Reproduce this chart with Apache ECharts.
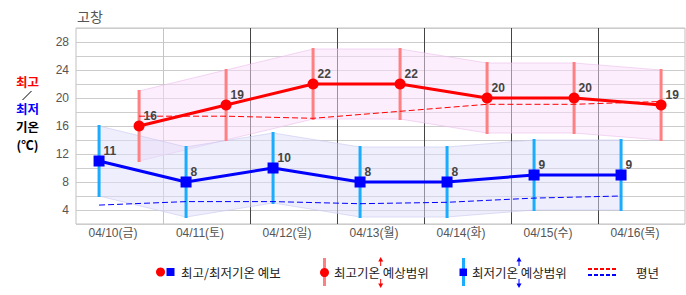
<!DOCTYPE html>
<html><head><meta charset="utf-8">
<script src="https://cdn.jsdelivr.net/npm/echarts@6/dist/echarts.min.js"></script>
<style>html,body{margin:0;padding:0;background:#fff}#c{width:686px;height:295px}</style>
</head><body><div id="c"></div>
<script>
// ---- data ----
const title = '고창';
const categories = ['04/10(금)','04/11(토)','04/12(일)','04/13(월)','04/14(화)','04/15(수)','04/16(목)'];
const maxTemp = [16, 19, 22, 22, 20, 20, 19];
const minTemp = [11, 8, 10, 8, 8, 9, 9];
const maxRangeHigh = [21, 24, 27, 27, 25, 25, 24];
const maxRangeLow  = [11, 14, 17, 17, 15, 15, 14];
const minRangeHigh = [16, 13, 15, 13, 13, 14, 14];
const minRangeLow  = [6, 3, 5, 3, 3, 4, 4];
const normalMax = [17.4, 17.4, 17.1, 18.1, 19.1, 19.1, 19.5];
const normalMin = [4.7, 5.2, 5.2, 4.9, 5.1, 5.7, 6.0];
const yTicks = [4, 8, 12, 16, 20, 24, 28];
const legendLabels = ['최고/최저기온 예보', '최고기온 예상범위', '최저기온 예상범위', '평년'];

// ---- layout / style ----
const MIN_POS = 0.265, MAX_POS = 0.725;
const dayLineColors = ['#c4c4c4', '#444', '#444', '#444', '#444', '#444'];
const FONT = "'Liberation Sans','Noto Sans CJK KR',sans-serif";
const KFONT = "'Noto Sans CJK KR','Liberation Sans',sans-serif";

const chart = echarts.init(document.getElementById('c'), null, {renderer: 'svg'});

function pts(arr, pos) { return arr.map((v, i) => [i + pos, v]); }

function bandSeries(high, low, pos, fill, edge) {
  return {
    type: 'custom', xAxisIndex: 1, yAxisIndex: 0, z: 1, silent: true,
    data: high.map((h, i) => [i + pos, low[i], h]),
    encode: {x: 0, y: [1, 2]},
    renderItem: function (params, api) {
      const i = params.dataIndex;
      if (i >= high.length - 1) return null;
      const a1 = api.coord([i + pos, high[i]]);
      const b1 = api.coord([i + 1 + pos, high[i + 1]]);
      const b2 = api.coord([i + 1 + pos, low[i + 1]]);
      const a2 = api.coord([i + pos, low[i]]);
      return {
        type: 'group',
        children: [
          {type: 'polygon', shape: {points: [a1, b1, b2, a2]}, style: {fill: fill}},
          {type: 'line', shape: {x1: a1[0], y1: a1[1], x2: b1[0], y2: b1[1]}, style: {stroke: edge, lineWidth: 1}},
          {type: 'line', shape: {x1: a2[0], y1: a2[1], x2: b2[0], y2: b2[1]}, style: {stroke: edge, lineWidth: 1}}
        ]
      };
    }
  };
}

function barSeries(high, low, pos, color) {
  return {
    type: 'custom', xAxisIndex: 1, yAxisIndex: 0, z: 2, silent: true,
    data: high.map((h, i) => [i + pos, low[i], h]),
    encode: {x: 0, y: [1, 2]},
    renderItem: function (params, api) {
      const p1 = api.coord([api.value(0), api.value(1)]);
      const p2 = api.coord([api.value(0), api.value(2)]);
      return {type: 'line', shape: {x1: p1[0], y1: p1[1] + 1, x2: p2[0], y2: p2[1] - 1},
              style: {stroke: color, lineWidth: 3}};
    }
  };
}

// vertical day separators (between categories)
const daySeparators = {
  type: 'custom', xAxisIndex: 1, yAxisIndex: 0, z: 0, silent: true,
  data: categories.slice(1).map((c, i) => [i + 1]),
  encode: {x: 0},
  renderItem: function (params, api) {
    const cs = params.coordSys;
    const p = api.coord([api.value(0), 2]);
    const x = Math.round(p[0]) + 0.5;
    return {type: 'line', shape: {x1: x, y1: cs.y, x2: x, y2: cs.y + cs.height},
            style: {stroke: dayLineColors[params.dataIndex], lineWidth: 1}};
  }
};

const valueLabel = {
  show: true, position: 'right', distance: -1, offset: [0, -10],
  fontFamily: FONT, fontWeight: 'bold', fontSize: 12, color: '#444',
  formatter: p => p.value[1]
};

function arrow(x, up, color) {
  if (up) {
    return [
      {type: 'line', shape: {x1: x, y1: 261, x2: x, y2: 266}, style: {stroke: color, lineWidth: 1}},
      {type: 'polygon', shape: {points: [[x, 257], [x - 2.5, 261.5], [x + 2.5, 261.5]]}, style: {fill: color}}
    ];
  }
  return [
    {type: 'line', shape: {x1: x, y1: 279, x2: x, y2: 284}, style: {stroke: color, lineWidth: 1}},
    {type: 'polygon', shape: {points: [[x, 288], [x - 2.5, 283.5], [x + 2.5, 283.5]]}, style: {fill: color}}
  ];
}

const legendFont = '12.5px ' + KFONT;
function sideText(t, y, color) {
  return {type: 'text', x: 27.5, y: y, style: {text: t, font: 'bold 12.5px ' + KFONT, lineHeight: 13, fill: color, align: 'center', verticalAlign: 'middle'}};
}
const graphics = [
  {type: 'text', x: 77, y: 16, style: {text: title, font: '14px ' + KFONT, fill: '#555', verticalAlign: 'middle'}},
  sideText('최고', 81.5, '#FF0000'),
  {type: 'line', shape: {x1: 31.5, y1: 91, x2: 22.5, y2: 100}, style: {stroke: '#000', lineWidth: 1}},
  sideText('최저', 108.5, '#0000FF'),
  sideText('기온', 126, '#000'),
  sideText('(℃)', 144, '#000'),
  // legend 1
  {type: 'circle', shape: {cx: 160.5, cy: 272, r: 4.5}, style: {fill: '#FF0000'}},
  {type: 'rect', shape: {x: 166.5, y: 268, width: 8, height: 8}, style: {fill: '#0000FF'}},
  {type: 'text', x: 181, y: 272.5, style: {text: legendLabels[0], font: legendFont, fill: '#222', verticalAlign: 'middle'}},
  // legend 2
  {type: 'rect', shape: {x: 323, y: 258, width: 3, height: 28}, style: {fill: '#FF8080'}},
  {type: 'circle', shape: {cx: 324.5, cy: 272.5, r: 4.5}, style: {fill: '#FF0000'}},
  {type: 'text', x: 334, y: 272.5, style: {text: legendLabels[1], font: legendFont, fill: '#222', verticalAlign: 'middle'}},
  ...arrow(380.7, true, '#FF0000'), ...arrow(380.7, false, '#FF0000'),
  // legend 3
  {type: 'rect', shape: {x: 462, y: 258, width: 3, height: 28}, style: {fill: '#1AADFF'}},
  {type: 'rect', shape: {x: 459.5, y: 268.5, width: 7.5, height: 7.5}, style: {fill: '#0000FF'}},
  {type: 'text', x: 472, y: 272.5, style: {text: legendLabels[2], font: legendFont, fill: '#222', verticalAlign: 'middle'}},
  ...arrow(519, true, '#0000FF'), ...arrow(519, false, '#0000FF'),
  // legend 4
  {type: 'line', shape: {x1: 588, y1: 269, x2: 616, y2: 269}, style: {stroke: '#FF0000', lineWidth: 2, lineDash: [4, 2]}},
  {type: 'line', shape: {x1: 588, y1: 275, x2: 616, y2: 275}, style: {stroke: '#0000FF', lineWidth: 2, lineDash: [4, 2]}},
  {type: 'text', x: 636, y: 272.5, style: {text: legendLabels[3], font: legendFont, fill: '#222', verticalAlign: 'middle'}}
];

const option = {
  animation: false,
  backgroundColor: '#fff',
  grid: {left: 76, top: 28, right: 1, bottom: 71, show: true, borderColor: '#c0c0c0', borderWidth: 1, backgroundColor: 'transparent'},
  xAxis: [
    {
      type: 'category', data: categories, boundaryGap: true,
      axisLine: {show: false}, axisTick: {show: false},
      axisLabel: {color: '#555', fontSize: 12, fontFamily: FONT, margin: 3, padding: [0, 13, 0, 0]},
      splitLine: {show: false}
    },
    {type: 'value', min: 0, max: 7, show: false}
  ],
  yAxis: {
    type: 'value', min: 2, max: 30, interval: 2,
    axisLine: {show: false}, axisTick: {show: false},
    axisLabel: {color: '#555', fontSize: 12, fontFamily: FONT, margin: 7,
      formatter: v => yTicks.indexOf(v) >= 0 ? String(v) : ''},
    splitLine: {lineStyle: {color: '#cccccc', width: 1}}
  },
  graphic: graphics,
  series: [
    daySeparators,
    bandSeries(maxRangeHigh, maxRangeLow, MAX_POS, 'rgba(250,222,250,0.5)', 'rgba(235,190,235,0.6)'),
    bandSeries(minRangeHigh, minRangeLow, MIN_POS, 'rgba(221,221,249,0.5)', 'rgba(200,200,240,0.6)'),
    barSeries(maxRangeHigh, maxRangeLow, MAX_POS, '#FF8080'),
    barSeries(minRangeHigh, minRangeLow, MIN_POS, '#1AADFF'),
    {type: 'line', xAxisIndex: 1, z: 3, silent: true, data: pts(normalMax, MAX_POS), symbol: 'none',
     lineStyle: {color: '#FF0000', width: 1, type: [6, 3]}},
    {type: 'line', xAxisIndex: 1, z: 3, silent: true, data: pts(normalMin, MIN_POS), symbol: 'none',
     lineStyle: {color: '#0000FF', width: 1, type: [6, 3]}},
    {type: 'line', xAxisIndex: 1, z: 4, silent: true, data: pts(maxTemp, MAX_POS), symbol: 'circle', symbolSize: 11,
     lineStyle: {color: '#FF0000', width: 3}, itemStyle: {color: '#FF0000'}, label: valueLabel},
    {type: 'line', xAxisIndex: 1, z: 4, silent: true, data: pts(minTemp, MIN_POS), symbol: 'rect', symbolSize: 11,
     lineStyle: {color: '#0000FF', width: 3}, itemStyle: {color: '#0000FF'}, label: valueLabel}
  ]
};
chart.setOption(option);
</script>
</body></html>
